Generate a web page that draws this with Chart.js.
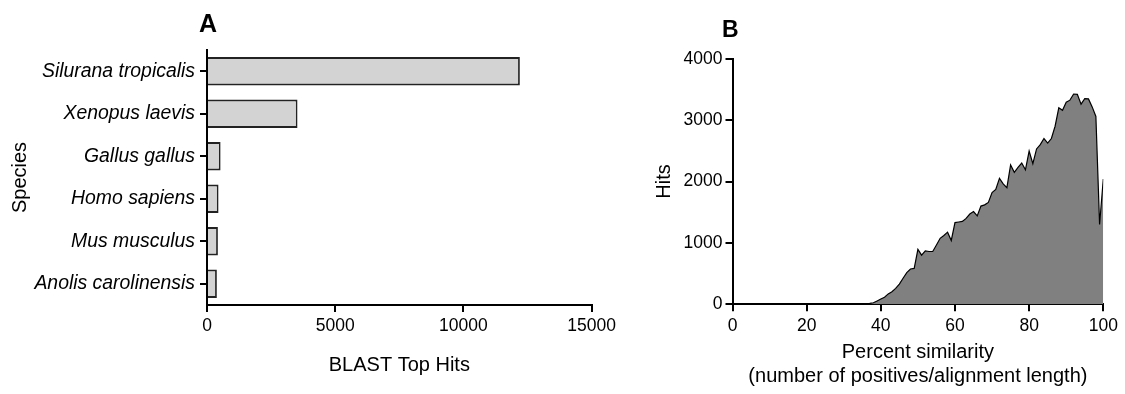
<!DOCTYPE html>
<html>
<head>
<meta charset="utf-8">
<script src="https://cdn.jsdelivr.net/npm/chart.js@4"></script>
<style>
  html, body { margin: 0; padding: 0; background: #fff; }
  #wrapA { position: absolute; left: 0; top: 0; width: 620px; height: 394px; }
  #wrapB { position: absolute; left: 620px; top: 0; width: 505px; height: 394px; }
</style>
</head>
<body>
<div id="wrapA"><canvas id="chartA"></canvas></div>
<div id="wrapB"><canvas id="chartB"></canvas></div>
<script>
// panel A: top BLAST hits per species
const species = ['Silurana tropicalis', 'Xenopus laevis', 'Gallus gallus', 'Homo sapiens', 'Mus musculus', 'Anolis carolinensis'];
const topHits = [12200, 3530, 530, 450, 425, 385];
const hitTicks = [0, 5000, 10000, 15000];

// panel B: hits by percent similarity
const similarity = [
  0, 1, 2, 3, 4, 5, 6, 7, 8, 9, 10, 11, 12, 13, 14, 15, 16, 17, 18, 19,
  20, 21, 22, 23, 24, 25, 26, 27, 28, 29, 30, 31, 32, 33, 34, 35, 36, 37, 38, 39,
  40, 41, 42, 43, 44, 45, 46, 47, 48, 49, 50, 51, 52, 53, 54, 55, 56, 57, 58, 59,
  60, 61, 62, 63, 64, 65, 66, 67, 68, 69, 70, 71, 72, 73, 74, 75, 76, 77, 78, 79,
  80, 81, 82, 83, 84, 85, 86, 87, 88, 89, 90, 91, 92, 93, 94, 95, 96, 97, 98, 99, 100
];
const hits = [
  0, 0, 0, 0, 0, 0, 0, 0, 0, 0, 0, 0, 0, 0, 0, 0, 0, 0, 0, 0,
  0, 0, 0, 0, 0, 0, 0, 0, 0, 0, 0, 0, 0, 0, 0, 0, 10, 15, 25, 55,
  85, 115, 170, 205, 260, 330, 425, 515, 575, 585, 895, 800, 870, 860, 860, 965, 1075, 1120, 1175, 1040,
  1330, 1340, 1350, 1400, 1470, 1510, 1440, 1600, 1620, 1660, 1820, 1870, 2050, 1960, 1900, 2270, 2150, 2230, 2300, 2190,
  2495, 2290, 2530, 2600, 2700, 2625, 2700, 2900, 3200, 3160, 3290, 3325, 3425, 3420, 3260, 3350, 3345, 3215, 3060, 1300, 2040
];
const simTicks = [0, 20, 40, 60, 80, 100];
const hitsAxisTicks = [0, 1000, 2000, 3000, 4000];

const FONT = '"Liberation Sans", Arial, sans-serif';
Chart.defaults.font.family = FONT;
Chart.defaults.color = '#000';
Chart.defaults.animation = false;
Chart.defaults.maintainAspectRatio = false;
Chart.defaults.plugins.legend.display = false;
Chart.defaults.plugins.tooltip.enabled = false;

const panelLabel = {
  id: 'panelLabel',
  afterDraw(chart, args, opts) {
    const ctx = chart.ctx;
    ctx.save();
    ctx.font = `bold ${opts.size}px ${FONT}`;
    ctx.fillStyle = '#000';
    ctx.textBaseline = 'alphabetic';
    ctx.fillText(opts.text, opts.x, opts.y);
    ctx.restore();
  }
};

const axisGrid = { drawOnChartArea: false, drawTicks: true, tickLength: 7, color: '#000', lineWidth: 2 };
const axisBorder = { display: true, color: '#000', width: 2 };
const fixedTicks = list => scale => { scale.ticks = list.map(v => ({ value: v })); };

new Chart(document.getElementById('chartA'), {
  type: 'bar',
  data: {
    labels: species,
    datasets: [{
      data: topHits,
      backgroundColor: '#d3d3d3',
      borderColor: '#222',
      borderWidth: 1.8,
      barPercentage: 0.667,
      categoryPercentage: 1
    }]
  },
  options: {
    indexAxis: 'y',
    layout: { padding: { top: 50, right: 27, left: 0, bottom: 0 } },
    scales: {
      x: {
        min: 0, max: 15000,
        afterBuildTicks: fixedTicks(hitTicks),
        afterFit: s => { s.height = 89; },
        grid: axisGrid, border: axisBorder,
        ticks: { font: { size: 17.5 }, padding: 4, maxRotation: 0, callback: v => v },
        title: { display: true, text: 'BLAST Top Hits', font: { size: 20 }, padding: { bottom: 17 } }
      },
      y: {
        afterFit: s => { s.width = 207; },
        grid: { ...axisGrid, offset: false },
        border: axisBorder,
        ticks: { font: { size: 19.4, style: 'italic' }, padding: 5 },
        title: { display: true, text: 'Species', font: { size: 20 }, padding: { top: 8 } }
      }
    },
    plugins: { panelLabel: { text: 'A', x: 199, y: 32, size: 25 } }
  },
  plugins: [panelLabel]
});

new Chart(document.getElementById('chartB'), {
  type: 'line',
  data: {
    datasets: [{
      data: similarity.map((x, i) => ({ x, y: hits[i] })),
      borderColor: '#000',
      borderWidth: 1.2,
      backgroundColor: '#808080',
      fill: 'origin',
      tension: 0,
      pointRadius: 0
    }]
  },
  options: {
    layout: { padding: { top: 58.7, right: 21.7, left: 0, bottom: 0 } },
    scales: {
      x: {
        type: 'linear', min: 0, max: 100,
        afterBuildTicks: fixedTicks(simTicks),
        afterFit: s => { s.height = 89.7; },
        grid: axisGrid, border: axisBorder,
        ticks: { font: { size: 17.5 }, padding: 4, maxRotation: 0, callback: v => v },
        title: {
          display: true,
          text: ['Percent similarity', '(number of positives/alignment length)'],
          font: { size: 20 },
          padding: { bottom: 6 }
        }
      },
      y: {
        min: 0, max: 4000,
        afterBuildTicks: fixedTicks(hitsAxisTicks),
        afterFit: s => { s.width = 112.5; },
        grid: axisGrid, border: axisBorder,
        ticks: { font: { size: 17.5 }, padding: 3, callback: v => v },
        title: { display: true, text: 'Hits', font: { size: 20 }, padding: { top: 32 } }
      }
    },
    plugins: { panelLabel: { text: 'B', x: 102, y: 37, size: 23 } }
  },
  plugins: [panelLabel]
});
</script>
</body>
</html>
